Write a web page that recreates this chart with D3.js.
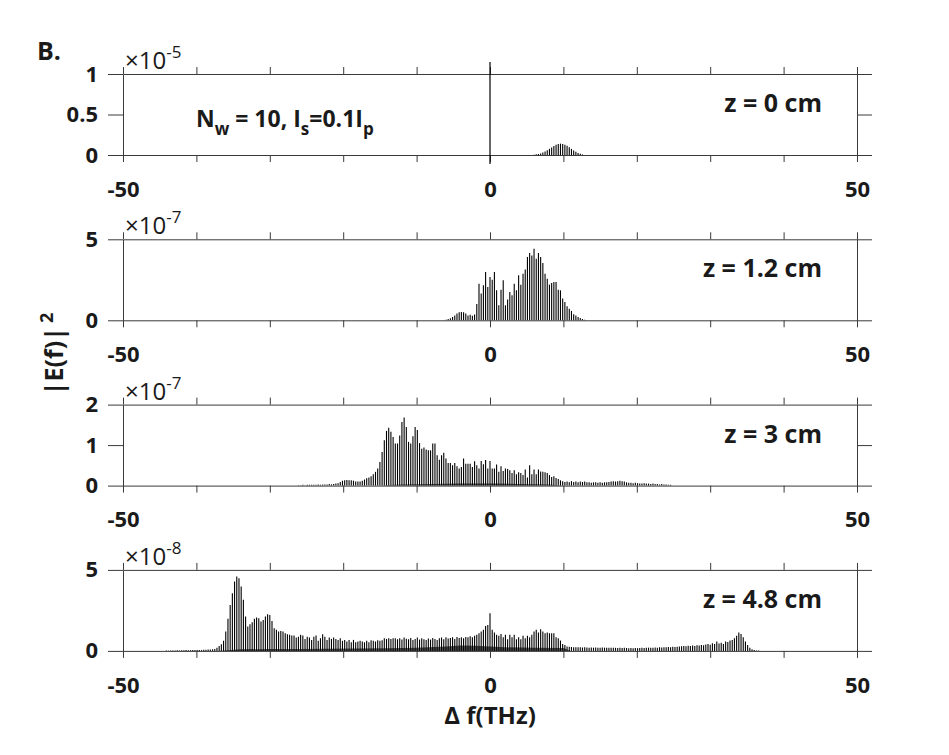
<!DOCTYPE html>
<html>
<head>
<meta charset="utf-8">
<script src="https://cdn.jsdelivr.net/npm/d3@7"></script>
<style>
  body { margin: 0; background: #fff; }
  text { font-family: "Open Sans", "Liberation Sans", sans-serif; fill: #1a1a1a; }
</style>
</head>
<body>
<svg id="chart" width="949" height="755"></svg>
<script>

// spacing of the spectral comb lines, THz
var combStep = 0.3;

// z = 0 cm  (x 1e-5)
var startZ0 = 6.0;
var specZ0 = [0.004,0.008,0.013,0.02,0.03,0.043,0.058,0.076,0.094,0.112,
              0.126,0.136,0.14,0.137,0.128,0.113,0.095,0.075,0.056,0.039,
              0.025,0.014,0.007];

// z = 1.2 cm  (x 1e-7)
var startZ1 = -6.0;
var specZ1 = [0.04,0.08,0.12,0.2,0.3,0.42,0.5,0.52,0.5,0.42,
              0.3,0.35,0.28,0.36,1.0,2.26,1.65,2.16,2.98,2.06,
              2.67,2.5,2.98,1.85,0.93,1.89,2.47,0.93,1.28,1.75,
              1.54,2.26,1.85,2.78,2.2,2.88,3.13,3.9,4.16,4.0,
              4.42,3.8,4.16,3.9,3.54,2.88,2.57,2.2,2.3,2.37,
              2.37,1.89,1.85,1.34,1.13,0.86,0.72,0.58,0.37,0.29,
              0.2,0.14,0.08,0.04];

// z = 3 cm  (x 1e-7)
var startZ2 = -26.1;
var specZ2 = [0.01,0.01,0.02,0.01,0.02,0.02,0.02,0.02,0.02,0.03,
              0.02,0.03,0.03,0.03,0.04,0.03,0.04,0.05,0.06,0.09,
              0.12,0.13,0.14,0.13,0.13,0.12,0.1,0.1,0.1,0.12,
              0.15,0.18,0.2,0.23,0.28,0.34,0.42,0.58,0.83,1.12,
              1.35,1.43,1.33,1.2,1.04,1.04,1.24,1.57,1.68,1.45,
              1.08,1.04,1.22,1.45,1.37,1.05,0.91,0.94,0.89,0.87,
              0.87,1.04,1.04,0.75,0.64,0.75,0.81,0.67,0.56,0.56,
              0.5,0.56,0.48,0.42,0.46,0.67,0.54,0.54,0.54,0.46,
              0.6,0.5,0.42,0.61,0.53,0.63,0.42,0.61,0.42,0.42,
              0.52,0.34,0.48,0.36,0.42,0.41,0.38,0.31,0.38,0.28,
              0.33,0.31,0.26,0.4,0.2,0.5,0.28,0.4,0.28,0.4,
              0.35,0.34,0.33,0.31,0.26,0.21,0.23,0.19,0.16,0.13,
              0.11,0.09,0.1,0.08,0.11,0.09,0.1,0.08,0.1,0.09,
              0.1,0.08,0.08,0.07,0.08,0.08,0.07,0.08,0.07,0.08,
              0.08,0.09,0.1,0.11,0.1,0.11,0.12,0.11,0.1,0.08,
              0.07,0.07,0.06,0.07,0.06,0.05,0.05,0.06,0.05,0.05,
              0.04,0.05,0.04,0.04,0.03,0.04,0.03,0.03,0.02,0.02];

// z = 4.8 cm  (x 1e-8)
var startZ3 = -44.1;
var specZ3 = [0.02,0.02,0.03,0.03,0.03,0.04,0.03,0.04,0.04,0.05,
              0.04,0.05,0.05,0.06,0.05,0.06,0.06,0.07,0.07,0.08,
              0.08,0.1,0.12,0.2,0.3,0.41,0.62,1.19,1.98,2.84,
              3.56,4.28,4.59,4.49,3.97,3.15,2.12,1.5,1.65,1.77,
              1.98,2.06,2.02,1.81,1.91,2.12,2.26,2.22,1.85,1.4,
              1.3,1.19,1.23,1.19,1.09,1.03,0.99,0.95,0.95,0.82,
              0.88,0.99,0.95,0.74,0.88,0.82,0.68,0.88,0.95,0.62,
              0.78,1.03,0.88,0.68,0.82,0.74,0.82,0.74,0.68,0.78,
              0.62,0.68,0.58,0.68,0.53,0.68,0.53,0.58,0.62,0.58,
              0.53,0.62,0.53,0.66,0.62,0.58,0.66,0.62,0.66,0.78,
              0.74,0.78,0.74,0.78,0.78,0.72,0.78,0.7,0.82,0.75,
              0.72,0.8,0.68,0.74,0.82,0.7,0.78,0.72,0.68,0.76,
              0.7,0.8,0.74,0.68,0.78,0.82,0.72,0.84,0.76,0.8,
              0.84,0.74,0.86,0.8,0.84,0.78,0.86,0.84,0.9,0.84,
              0.93,1.0,1.09,1.2,1.3,1.54,1.6,2.32,1.3,1.13,
              0.99,0.93,1.05,0.84,0.99,0.72,0.99,0.84,0.99,0.72,
              0.84,0.72,0.93,0.78,0.93,0.84,0.99,1.19,1.3,1.13,
              1.34,1.19,1.09,1.13,1.09,1.09,1.09,0.84,0.78,0.64,
              0.43,0.37,0.27,0.25,0.24,0.23,0.22,0.23,0.22,0.21,
              0.22,0.21,0.2,0.21,0.2,0.21,0.2,0.2,0.21,0.2,
              0.19,0.2,0.19,0.2,0.19,0.18,0.19,0.18,0.19,0.18,
              0.17,0.18,0.17,0.18,0.17,0.18,0.19,0.18,0.19,0.2,
              0.19,0.2,0.21,0.2,0.22,0.21,0.23,0.22,0.24,0.23,
              0.25,0.24,0.26,0.27,0.29,0.31,0.28,0.32,0.3,0.34,
              0.31,0.35,0.33,0.37,0.35,0.4,0.43,0.38,0.47,0.42,
              0.58,0.45,0.51,0.43,0.58,0.55,0.64,0.68,0.78,0.93,
              1.13,1.05,0.84,0.58,0.37,0.2,0.1,0.06,0.03,0.02];

// band of short lines near the baseline (z = 3 cm and z = 4.8 cm)
var floorFreqZ2 = [-15, -12, -8, -4, 0, 4, 8, 10];
var floorValZ2  = [0, 0.03, 0.04, 0.05, 0.05, 0.04, 0.03, 0];
var floorFreqZ3 = [-37, -34, -30, -26, -22, -18, -14, -10, -6, -4, -2, 0, 2, 6, 10, 11];
var floorValZ3  = [0, 0.1, 0.12, 0.12, 0.14, 0.15, 0.17, 0.2, 0.27, 0.34, 0.32, 0.27, 0.22, 0.2, 0.18, 0];

var panelLabels = ["z = 0 cm", "z = 1.2 cm", "z = 3 cm", "z = 4.8 cm"];
var panelExp = ["-5", "-7", "-7", "-8"];
var panelMax = [1, 5, 2, 5];
var panelYTicks = [[0, 0.5, 1], [0, 5], [0, 1, 2], [0, 5]];
var xTicks = [-50, -40, -30, -20, -10, 0, 10, 20, 30, 40, 50];
var xTickLabels = [-50, 0, 50];

var spectra = [
  {start: startZ0, values: specZ0},
  {start: startZ1, values: specZ1},
  {start: startZ2, values: specZ2, floorF: floorFreqZ2, floorV: floorValZ2},
  {start: startZ3, values: specZ3, floorF: floorFreqZ3, floorV: floorValZ3}
];

var svg = d3.select("#chart");
var x = d3.scaleLinear().domain([-50, 50]).range([123, 857]);
var top0 = 74, panelH = 81, panelGap = 165.3;
var axisColor = "#3a3a3a";

spectra.forEach(function (p, i) {
  var top = top0 + i * panelGap, bot = top + panelH;
  var y = d3.scaleLinear().domain([0, panelMax[i]]).range([bot, top]);
  var g = svg.append("g").attr("class", "panel");

  if (p.floorF) {
    var fl = p.floorF.map(function (f, k) { return [f, p.floorV[k]]; });
    var area = d3.area()
      .x(function (d) { return x(d[0]); })
      .y0(bot)
      .y1(function (d) { return y(d[1]); });
    g.append("path").datum(fl).attr("d", area)
      .attr("fill", "#222").attr("fill-opacity", 0.75);
  }

  // comb lines
  g.selectAll("line.comb")
    .data(p.values)
    .enter().append("line")
    .attr("class", "comb")
    .attr("x1", function (d, j) { return x(p.start + j * combStep); })
    .attr("x2", function (d, j) { return x(p.start + j * combStep); })
    .attr("y1", bot)
    .attr("y2", function (d) { return y(d); })
    .attr("stroke", "#000")
    .attr("stroke-width", 1.1);

  // axes, ticks pointing out on all sides
  var fmtX = function (d) { return xTickLabels.indexOf(d) >= 0 ? String(d) : ""; };
  var fmtY = function (d) { return String(d); };

  var gb = g.append("g").attr("transform", "translate(0," + bot + ")")
    .call(d3.axisBottom(x).tickValues(xTicks).tickSize(7).tickSizeOuter(0).tickPadding(19).tickFormat(fmtX));
  var gt = g.append("g").attr("transform", "translate(0," + top + ")")
    .call(d3.axisTop(x).tickValues(xTicks).tickSize(7).tickSizeOuter(0).tickFormat(""));
  var gl = g.append("g").attr("transform", "translate(" + x(-50) + ",0)")
    .call(d3.axisLeft(y).tickValues(panelYTicks[i]).tickSize(15).tickSizeOuter(0).tickPadding(10).tickFormat(fmtY));
  var gr = g.append("g").attr("transform", "translate(" + x(50) + ",0)")
    .call(d3.axisRight(y).tickValues(panelYTicks[i]).tickSize(15).tickSizeOuter(0).tickFormat(""));

  [gb, gt, gl, gr].forEach(function (a) {
    a.selectAll("path.domain").attr("stroke", axisColor);
    a.selectAll(".tick line").attr("stroke", axisColor);
    a.selectAll("text")
      .attr("font-size", 22).attr("font-weight", "bold")
      .attr("font-family", "'Open Sans', 'Liberation Sans', sans-serif")
      .attr("fill", "#1a1a1a");
  });

  // exponent
  var ex = g.append("text").attr("x", x(-50) + 2).attr("y", top - 5)
    .attr("font-size", 24);
  ex.append("tspan").text("\u00d710");
  ex.append("tspan").attr("dy", -11).attr("font-size", 17).text(panelExp[i]);

  // panel label
  g.append("text")
    .attr("x", 822).attr("y", top + 38)
    .attr("text-anchor", "end")
    .attr("font-size", 25).attr("font-weight", "bold")
    .text(panelLabels[i]);
});

// vertical line at 0 in the first panel
svg.append("line")
  .attr("x1", x(0)).attr("x2", x(0))
  .attr("y1", top0 - 12).attr("y2", top0 + panelH + 9)
  .attr("stroke", "#000").attr("stroke-width", 1.2);

// annotation
var ann = svg.append("text").attr("x", 196).attr("y", 127)
  .attr("font-size", 23).attr("font-weight", "bold");
ann.append("tspan").text("N");
ann.append("tspan").attr("dy", 8).attr("font-size", 17).text("w");
ann.append("tspan").attr("dy", -8).text(" = 10, I");
ann.append("tspan").attr("dy", 8).attr("font-size", 17).text("s");
ann.append("tspan").attr("dy", -8).text("=0.1I");
ann.append("tspan").attr("dy", 8).attr("font-size", 17).text("p");

// panel letter
svg.append("text").attr("x", 37).attr("y", 60)
  .attr("font-size", 25).attr("font-weight", "bold").text("B.");

// y axis title
var yt = svg.append("text")
  .attr("transform", "translate(63,354) rotate(-90)")
  .attr("text-anchor", "middle")
  .attr("font-size", 25).attr("font-weight", "bold");
yt.append("tspan").text("|E(f)|");
yt.append("tspan").attr("dx", 4).attr("dy", -10).attr("font-size", 18).text("2");

// x axis title
svg.append("text").attr("x", 490).attr("y", 724)
  .attr("text-anchor", "middle")
  .attr("font-size", 24).attr("font-weight", "bold")
  .text("\u0394 f(THz)");

</script>
</body>
</html>
